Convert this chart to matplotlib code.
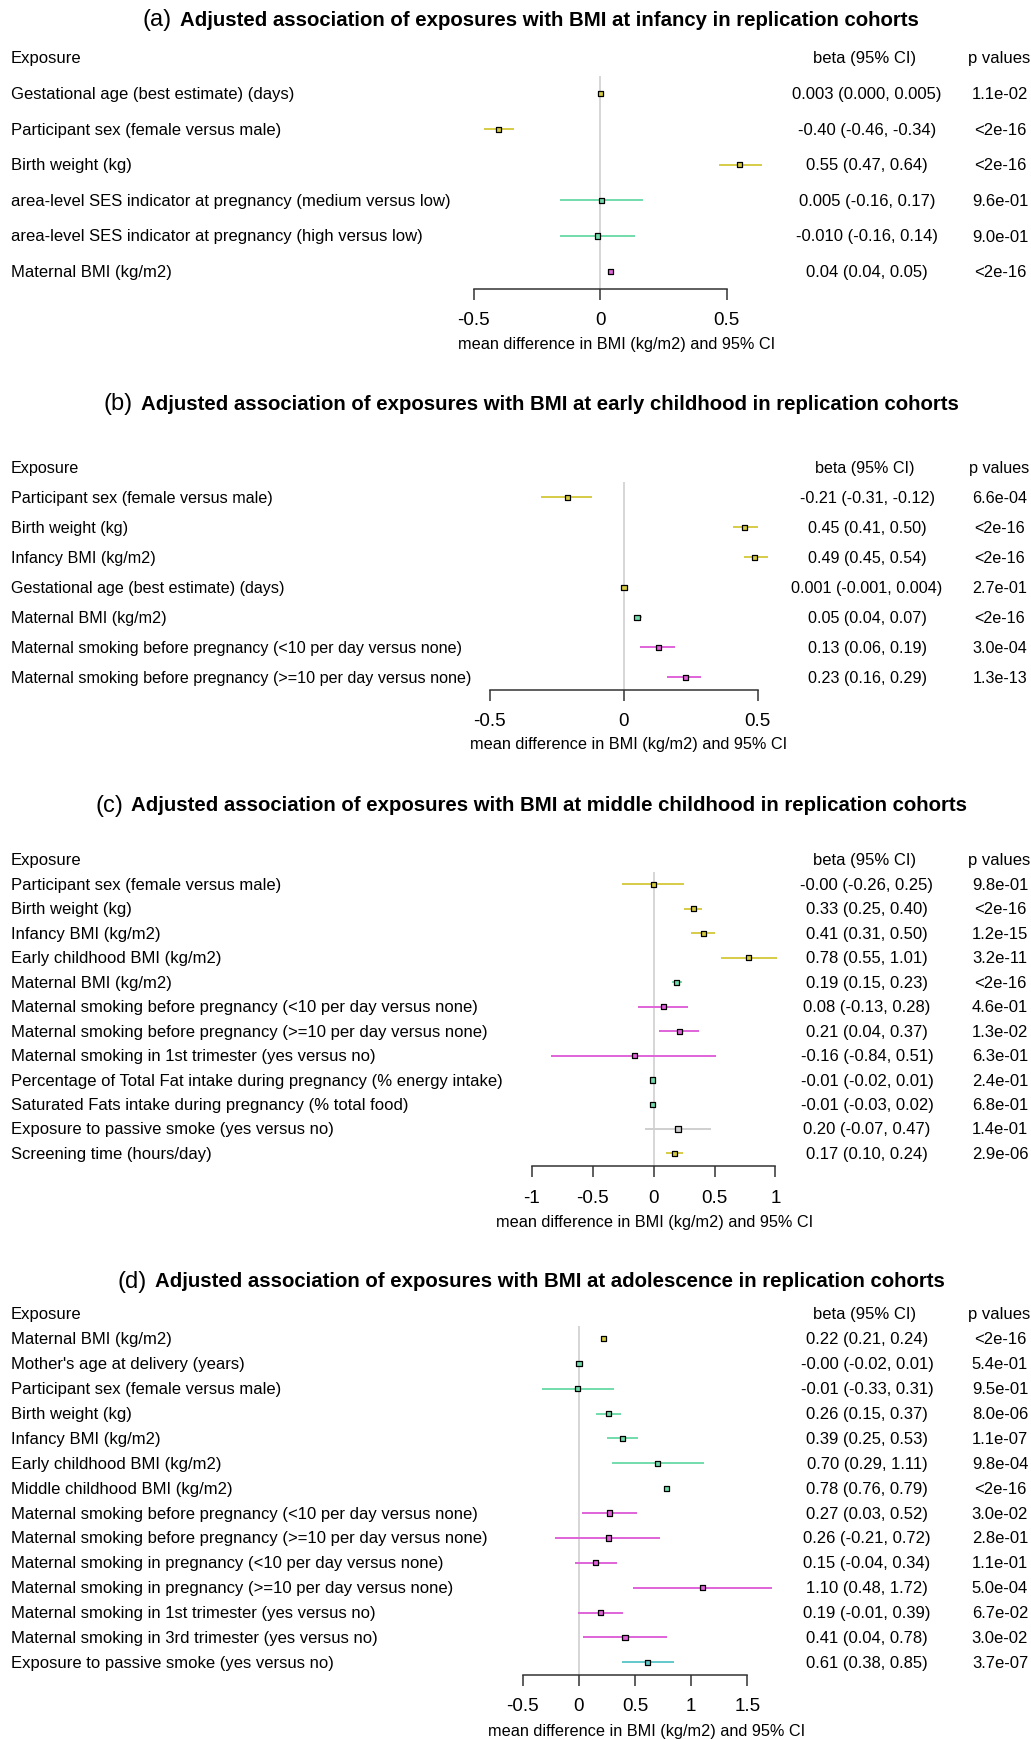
import matplotlib
matplotlib.use("Agg")
import matplotlib.pyplot as plt
from matplotlib.transforms import blended_transform_factory

plt.rcParams['font.family'] = ['Liberation Sans', 'DejaVu Sans']

Y = '#d6cc45'
G = '#72dcab'
M = '#e063d9'
T = '#62c9cb'
GR = '#cfcfcf'

# (a) infancy
labels_a = ["Gestational age (best estimate) (days)",
            "Participant sex (female versus male)",
            "Birth weight (kg)",
            "area-level SES indicator at pregnancy (medium versus low)",
            "area-level SES indicator at pregnancy (high versus low)",
            "Maternal BMI (kg/m2)"]
beta_a = [0.003, -0.40, 0.55, 0.005, -0.010, 0.04]
lo_a = [0.000, -0.46, 0.47, -0.16, -0.16, 0.04]
hi_a = [0.005, -0.34, 0.64, 0.17, 0.14, 0.05]
ci_a = ["0.003 (0.000, 0.005)", "-0.40 (-0.46, -0.34)", "0.55 (0.47, 0.64)",
        "0.005 (-0.16, 0.17)", "-0.010 (-0.16, 0.14)", "0.04 (0.04, 0.05)"]
p_a = ["1.1e-02", "<2e-16", "<2e-16", "9.6e-01", "9.0e-01", "<2e-16"]
col_a = [Y, Y, Y, G, G, M]

# (b) early childhood
labels_b = ["Participant sex (female versus male)",
            "Birth weight (kg)",
            "Infancy BMI (kg/m2)",
            "Gestational age (best estimate) (days)",
            "Maternal BMI (kg/m2)",
            "Maternal smoking before pregnancy (<10 per day versus none)",
            "Maternal smoking before pregnancy (>=10 per day versus none)"]
beta_b = [-0.21, 0.45, 0.49, 0.001, 0.05, 0.13, 0.23]
lo_b = [-0.31, 0.41, 0.45, -0.001, 0.04, 0.06, 0.16]
hi_b = [-0.12, 0.50, 0.54, 0.004, 0.07, 0.19, 0.29]
ci_b = ["-0.21 (-0.31, -0.12)", "0.45 (0.41, 0.50)", "0.49 (0.45, 0.54)",
        "0.001 (-0.001, 0.004)", "0.05 (0.04, 0.07)", "0.13 (0.06, 0.19)",
        "0.23 (0.16, 0.29)"]
p_b = ["6.6e-04", "<2e-16", "<2e-16", "2.7e-01", "<2e-16", "3.0e-04", "1.3e-13"]
col_b = [Y, Y, Y, Y, G, M, M]

# (c) middle childhood
labels_c = ["Participant sex (female versus male)",
            "Birth weight (kg)",
            "Infancy BMI (kg/m2)",
            "Early childhood BMI (kg/m2)",
            "Maternal BMI (kg/m2)",
            "Maternal smoking before pregnancy (<10 per day versus none)",
            "Maternal smoking before pregnancy (>=10 per day versus none)",
            "Maternal smoking in 1st trimester (yes versus no)",
            "Percentage of Total Fat intake during pregnancy (% energy intake)",
            "Saturated Fats intake during pregnancy (% total food)",
            "Exposure to passive smoke (yes versus no)",
            "Screening time (hours/day)"]
beta_c = [-0.00, 0.33, 0.41, 0.78, 0.19, 0.08, 0.21, -0.16, -0.01, -0.01, 0.20, 0.17]
lo_c = [-0.26, 0.25, 0.31, 0.55, 0.15, -0.13, 0.04, -0.84, -0.02, -0.03, -0.07, 0.10]
hi_c = [0.25, 0.40, 0.50, 1.01, 0.23, 0.28, 0.37, 0.51, 0.01, 0.02, 0.47, 0.24]
ci_c = ["-0.00 (-0.26, 0.25)", "0.33 (0.25, 0.40)", "0.41 (0.31, 0.50)",
        "0.78 (0.55, 1.01)", "0.19 (0.15, 0.23)", "0.08 (-0.13, 0.28)",
        "0.21 (0.04, 0.37)", "-0.16 (-0.84, 0.51)", "-0.01 (-0.02, 0.01)",
        "-0.01 (-0.03, 0.02)", "0.20 (-0.07, 0.47)", "0.17 (0.10, 0.24)"]
p_c = ["9.8e-01", "<2e-16", "1.2e-15", "3.2e-11", "<2e-16", "4.6e-01",
       "1.3e-02", "6.3e-01", "2.4e-01", "6.8e-01", "1.4e-01", "2.9e-06"]
col_c = [Y, Y, Y, Y, G, M, M, M, G, G, GR, Y]

# (d) adolescence
labels_d = ["Maternal BMI (kg/m2)",
            "Mother's age at delivery (years)",
            "Participant sex (female versus male)",
            "Birth weight (kg)",
            "Infancy BMI (kg/m2)",
            "Early childhood BMI (kg/m2)",
            "Middle childhood BMI (kg/m2)",
            "Maternal smoking before pregnancy (<10 per day versus none)",
            "Maternal smoking before pregnancy (>=10 per day versus none)",
            "Maternal smoking in pregnancy (<10 per day versus none)",
            "Maternal smoking in pregnancy (>=10 per day versus none)",
            "Maternal smoking in 1st trimester (yes versus no)",
            "Maternal smoking in 3rd trimester (yes versus no)",
            "Exposure to passive smoke (yes versus no)"]
beta_d = [0.22, -0.00, -0.01, 0.26, 0.39, 0.70, 0.78, 0.27, 0.26, 0.15, 1.10, 0.19, 0.41, 0.61]
lo_d = [0.21, -0.02, -0.33, 0.15, 0.25, 0.29, 0.76, 0.03, -0.21, -0.04, 0.48, -0.01, 0.04, 0.38]
hi_d = [0.24, 0.01, 0.31, 0.37, 0.53, 1.11, 0.79, 0.52, 0.72, 0.34, 1.72, 0.39, 0.78, 0.85]
ci_d = ["0.22 (0.21, 0.24)", "-0.00 (-0.02, 0.01)", "-0.01 (-0.33, 0.31)",
        "0.26 (0.15, 0.37)", "0.39 (0.25, 0.53)", "0.70 (0.29, 1.11)",
        "0.78 (0.76, 0.79)", "0.27 (0.03, 0.52)", "0.26 (-0.21, 0.72)",
        "0.15 (-0.04, 0.34)", "1.10 (0.48, 1.72)", "0.19 (-0.01, 0.39)",
        "0.41 (0.04, 0.78)", "0.61 (0.38, 0.85)"]
p_d = ["<2e-16", "5.4e-01", "9.5e-01", "8.0e-06", "1.1e-07", "9.8e-04", "<2e-16",
       "3.0e-02", "2.8e-01", "1.1e-01", "5.0e-04", "6.7e-02", "3.0e-02", "3.7e-07"]
col_d = [Y, G, G, G, G, G, G, M, M, M, M, M, M, T]

titles = ["Adjusted association of exposures with BMI at infancy in replication cohorts",
          "Adjusted association of exposures with BMI at early childhood in replication cohorts",
          "Adjusted association of exposures with BMI at middle childhood in replication cohorts",
          "Adjusted association of exposures with BMI at adolescence in replication cohorts"]
tags = ["(a)", "(b)", "(c)", "(d)"]
ticks = [[-0.5, 0, 0.5], [-0.5, 0, 0.5], [-1, -0.5, 0, 0.5, 1], [-0.5, 0, 0.5, 1, 1.5]]

# layout in pixels: title_y, header_y, row step, axis_y, zero_x, px per unit,
# xlabel x, xlabel y, body font size
layout = [
    (20, 59, 35.6, 290, 600, 253.0, 617, 345, 12),
    (404, 468.4, 30.0, 691, 623.7, 267.7, 629, 745, 11.6),
    (806, 861, 24.45, 1167.3, 653.7, 121.7, 655, 1222, 12),
    (1282, 1315, 24.88, 1675.7, 579, 112.2, 647, 1731.7, 12),
]

panels = [
    (labels_a, beta_a, lo_a, hi_a, ci_a, p_a, col_a),
    (labels_b, beta_b, lo_b, hi_b, ci_b, p_b, col_b),
    (labels_c, beta_c, lo_c, hi_c, ci_c, p_c, col_c),
    (labels_d, beta_d, lo_d, hi_d, ci_d, p_d, col_d),
]

W, H = 1031, 1740
fig = plt.figure(figsize=(W / 100, H / 100), dpi=100)

def fmt(v):
    return "%g" % v

title_texts = []
for k, (labs, beta, lo, hi, ci, pv, cols) in enumerate(panels):
    ty, hy, step, axy, zx, ppu, xlx, xly, fs = layout[k]
    n = len(labs)
    yax = (axy - hy) / step
    ax = fig.add_axes([0, 1 - axy / H, 1, (axy - hy) / H])
    ax.set_xlim(-zx / ppu, (W - zx) / ppu)
    ax.set_ylim(yax, 0)
    rows = list(range(1, n + 1))

    ax.vlines(0, 0.5, yax, color='#d3d3d3', lw=1.3, zorder=1)
    ax.hlines(rows, lo, hi, colors=cols, lw=1.4, zorder=2)
    ax.scatter(beta, rows, marker='s', s=14, c=cols, edgecolors='black',
               linewidths=0.9, zorder=3)

    for s in ['top', 'left', 'right']:
        ax.spines[s].set_visible(False)
    ax.spines['bottom'].set_bounds(ticks[k][0], ticks[k][-1])
    ax.spines['bottom'].set_color('#333333')
    ax.spines['bottom'].set_linewidth(1.1)
    ax.set_yticks([])
    ax.set_xticks(ticks[k])
    ax.set_xticklabels([fmt(t) for t in ticks[k]])
    ax.tick_params(axis='x', length=8, width=1.1, color='#333333',
                   pad=8, labelsize=13.5)
    ax.patch.set_visible(False)

    tr = blended_transform_factory(fig.transFigure, ax.transData)
    ax.text(11 / W, 0, "Exposure", transform=tr, va='center', ha='left', fontsize=fs)
    ax.text(865 / W, 0, "beta (95% CI)", transform=tr, va='center', ha='center', fontsize=fs)
    ax.text(999 / W, 0, "p values", transform=tr, va='center', ha='center', fontsize=fs)
    for i in range(n):
        ax.text(11 / W, rows[i], labs[i], transform=tr, va='center', ha='left', fontsize=fs)
        ax.text(867 / W, rows[i], ci[i], transform=tr, va='center', ha='center', fontsize=fs)
        ax.text(1000 / W, rows[i], pv[i], transform=tr, va='center', ha='center', fontsize=fs)

    fig.text(xlx / W, 1 - xly / H, "mean difference in BMI (kg/m2) and 95% CI",
             ha='center', va='center', fontsize=11.7)

    t1 = fig.text(0, 1 - ty / H, tags[k], fontsize=17, va='center', ha='left')
    t2 = fig.text(0, 1 - ty / H, titles[k], fontsize=14.7, fontweight='bold',
                  va='center', ha='left')
    title_texts.append((t1, t2))

# center the two-part titles at x = 531 px
r = fig.canvas.get_renderer()
for t1, t2 in title_texts:
    w1 = t1.get_window_extent(r).width
    w2 = t2.get_window_extent(r).width
    gap = 8
    x0 = 531 - (w1 + gap + w2) / 2
    t1.set_x(x0 / W)
    t2.set_x((x0 + w1 + gap) / W)

fig.savefig("out.png", dpi=100, facecolor='white')
